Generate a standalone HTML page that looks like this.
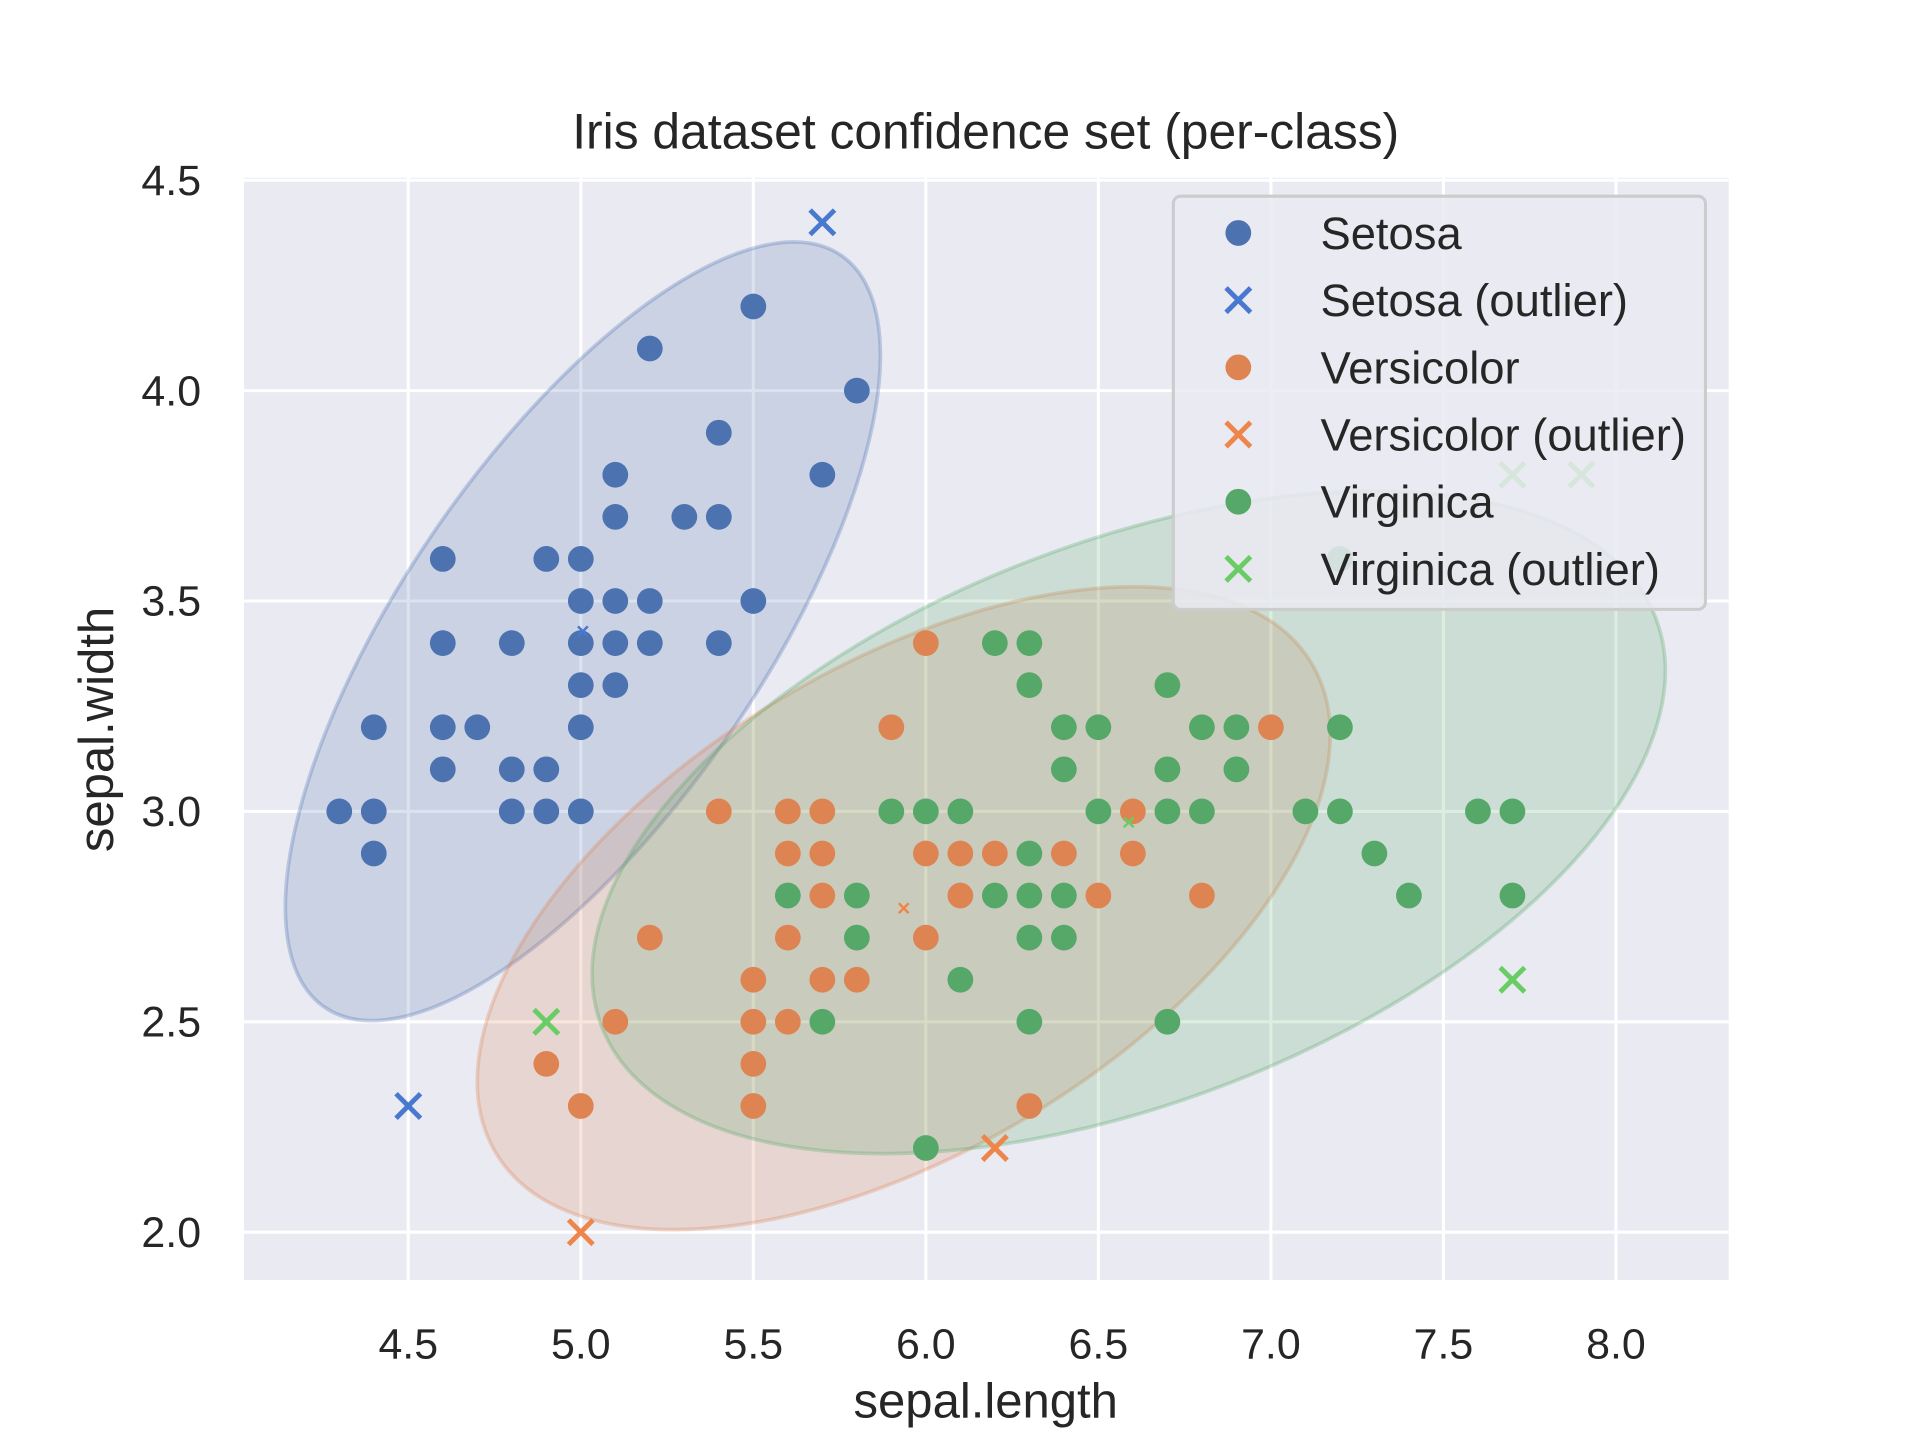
<!DOCTYPE html>
<html><head><meta charset="utf-8"><style>
html,body{margin:0;padding:0;background:#fff;}
svg{display:block;font-family:"Liberation Sans",sans-serif;}
</style></head><body>
<svg id="chart" width="1920" height="1440" viewBox="0 0 1566 1174.5" preserveAspectRatio="none" xmlns="http://www.w3.org/2000/svg">
<rect x="199" y="145" width="1211" height="899" fill="#eaeaf2"/>
<g id="grid"></g>
<g id="ellipses"></g>
<g id="marks"></g>
<g id="ticks" font-size="35" fill="#262626"></g>
<text x="804" y="121" text-anchor="middle" font-size="40.6" fill="#262626">Iris dataset confidence set (per-class)</text>
<text x="804" y="1156" text-anchor="middle" font-size="40" fill="#262626">sepal.length</text>
<text transform="translate(92,595) rotate(-90)" text-anchor="middle" font-size="40" fill="#262626">sepal.width</text>
<g id="legend">
<rect x="957" y="160" width="434" height="337" rx="6" fill="#eaeaf2" fill-opacity="0.85" stroke="#cccccc" stroke-width="2.5"/>
</g>
</svg>
<script>
const xTicks=[4.5,5.0,5.5,6.0,6.5,7.0,7.5,8.0];
const yTicks=[2.0,2.5,3.0,3.5,4.0,4.5];
const setosaX=[4.3,4.4,4.4,4.4,4.6,4.6,4.6,4.6,4.7,4.8,4.8,4.8,4.9,4.9,4.9,5.0,5.0,5.0,5.0,5.0,5.0,5.1,5.1,5.1,5.1,5.1,5.2,5.2,5.2,5.3,5.4,5.4,5.4,5.5,5.5,5.7,5.8];
const setosaY=[3.0,3.0,2.9,3.2,3.6,3.4,3.2,3.1,3.2,3.4,3.1,3.0,3.6,3.1,3.0,3.6,3.5,3.4,3.3,3.2,3.0,3.8,3.7,3.5,3.4,3.3,4.1,3.5,3.4,3.7,3.9,3.7,3.4,4.2,3.5,3.8,4.0];
const setosaOutX=[5.7,4.5];
const setosaOutY=[4.4,2.3];
const versiX=[4.9,5.0,5.1,5.2,5.4,5.5,5.5,5.5,5.5,5.6,5.6,5.6,5.6,5.7,5.7,5.7,5.7,5.8,5.9,6.0,6.0,6.0,6.1,6.1,6.2,6.3,6.4,6.5,6.6,6.6,6.8,7.0];
const versiY=[2.4,2.3,2.5,2.7,3.0,2.6,2.5,2.4,2.3,3.0,2.9,2.7,2.5,3.0,2.9,2.8,2.6,2.6,3.2,3.4,2.9,2.7,2.9,2.8,2.9,2.3,2.9,2.8,3.0,2.9,2.8,3.2];
const versiOutX=[5.0,6.2];
const versiOutY=[2.0,2.2];
const virgX=[5.6,5.7,5.8,5.8,5.9,6.0,6.0,6.1,6.1,6.2,6.2,6.3,6.3,6.3,6.3,6.3,6.3,6.4,6.4,6.4,6.4,6.5,6.5,6.7,6.7,6.7,6.7,6.8,6.8,6.9,6.9,7.1,7.2,7.2,7.3,7.4,7.6,7.7,7.7,7.2];
const virgY=[2.8,2.5,2.8,2.7,3.0,3.0,2.2,3.0,2.6,3.4,2.8,3.4,3.3,2.9,2.8,2.7,2.5,3.2,3.1,2.8,2.7,3.2,3.0,3.3,3.1,3.0,2.5,3.2,3.0,3.2,3.1,3.0,3.2,3.0,2.9,2.8,3.0,3.0,2.8,3.6];
const virgOutX=[4.9,7.7,7.7,7.9];
const virgOutY=[2.5,2.6,3.8,3.8];
const meanX=[5.006,5.936,6.588];
const meanY=[3.428,2.770,2.974];
const classNames=['Setosa','Versicolor','Virginica'];

const NS='http://www.w3.org/2000/svg';
const X=v=>333+281.43*(v-4.5);
const Y=v=>147+343.2*(4.5-v);
function mk(t,a,p){const e=document.createElementNS(NS,t);for(const k in a)e.setAttribute(k,a[k]);p.appendChild(e);return e;}
const grid=document.getElementById('grid'),ticks=document.getElementById('ticks'),marks=document.getElementById('marks'),ell=document.getElementById('ellipses'),leg=document.getElementById('legend');
xTicks.forEach(v=>{
  const l=mk('line',{x1:X(v),x2:X(v),y1:145,y2:1044,stroke:'#fff','stroke-width':2.5},grid);
  
  
  const t=mk('text',{x:X(v),y:1108,'text-anchor':'middle'},ticks);t.textContent=v.toFixed(1);
  
  
});
yTicks.forEach(v=>{
  const l=mk('line',{x1:199,x2:1410,y1:Y(v),y2:Y(v),stroke:'#fff','stroke-width':2.5},grid);
  
  
  const t=mk('text',{x:164,y:Y(v)+12,'text-anchor':'end'},ticks);t.textContent=v.toFixed(1);
  
  
});
const ellShape=[[372,146,-55.5],[388,198,-31],[461,228,-21.2]];
const fillC=['#4c72b0','#dd8452','#55a868'];
const outC=['#4878d0','#ee854a','#6acc64'];
for(let i=0;i<3;i++){
  const cx=X(meanX[i]),cy=Y(meanY[i]),s=ellShape[i];
  const e=mk('ellipse',{cx:cx,cy:cy,rx:s[0],ry:s[1],transform:`rotate(${s[2]} ${cx} ${cy})`,fill:fillC[i],'fill-opacity':0.2,stroke:fillC[i],'stroke-opacity':0.3,'stroke-width':3},ell);
  
  
}
function dots(xs,ys,c,name){xs.forEach((v,i)=>{
  const e=mk('circle',{cx:X(v),cy:Y(ys[i]),r:10.5,fill:c},marks);
  
  
});}
function cross(cx,cy,h,c,w,p){const g=mk('g',{stroke:c,'stroke-width':w},p);
  mk('line',{x1:cx-h,y1:cy-h,x2:cx+h,y2:cy+h},g);mk('line',{x1:cx-h,y1:cy+h,x2:cx+h,y2:cy-h},g);return g;}
function crosses(xs,ys,c,name){xs.forEach((v,i)=>{
  const g=cross(X(v),Y(ys[i]),10,c,4,marks);
  
  
});}
dots(setosaX,setosaY,fillC[0],'setosa-point');
crosses(setosaOutX,setosaOutY,outC[0],'setosa-outlier');
dots(versiX,versiY,fillC[1],'versicolor-point');
crosses(versiOutX,versiOutY,outC[1],'versicolor-outlier');
dots(virgX,virgY,fillC[2],'virginica-point');
crosses(virgOutX,virgOutY,outC[2],'virginica-outlier');
for(let i=0;i<3;i++){
  const g=cross(X(meanX[i]),Y(meanY[i]),4,outC[i],2,marks);
  
  
}
const legLabels=['Setosa','Setosa (outlier)','Versicolor','Versicolor (outlier)','Virginica','Virginica (outlier)'];
legLabels.forEach((lab,i)=>{
  const y=190+i*54.8,c=i%2===0?fillC[i/2]:outC[(i-1)/2];
  const g=mk('g',{},leg);
  
  
  if(i%2===0)mk('circle',{cx:1010,cy:y,r:10.5,fill:c},g);else cross(1010,y,10,c,4,g);
  const t=mk('text',{x:1077,y:y+13,'font-size':37,fill:'#262626'},g);t.textContent=lab;
});
</script>
</body></html>
